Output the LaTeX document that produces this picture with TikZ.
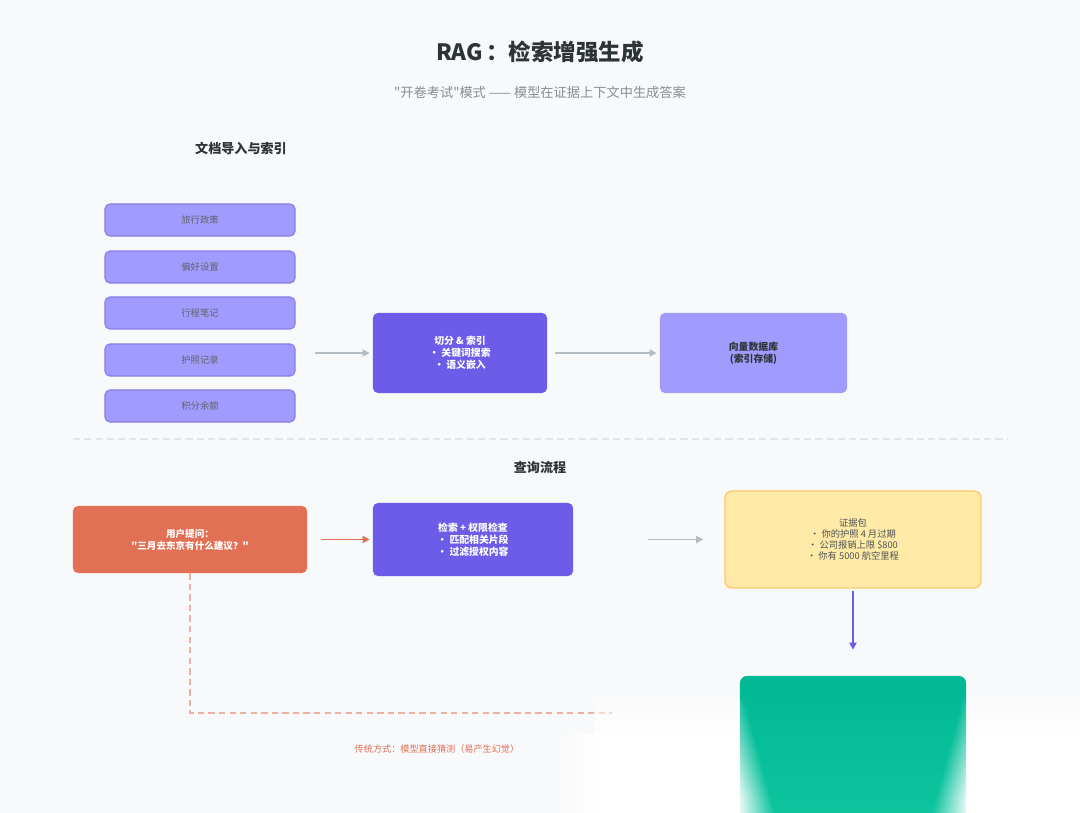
\documentclass[tikz,border=0pt]{standalone}
\usepackage{fontspec}
\setmainfont{Noto Sans CJK SC}[Ligatures=TeXOff]
\usetikzlibrary{positioning,arrows.meta,fadings}

\definecolor{pagebg}{HTML}{F8F9FA}
\definecolor{lavender}{HTML}{A29BFE}
\definecolor{violetd}{HTML}{6C5CE7}
\definecolor{coral}{HTML}{E17055}
\definecolor{sand}{HTML}{FFEAA7}
\definecolor{sandline}{HTML}{FDCB6E}
\definecolor{teal}{HTML}{00B894}
\definecolor{tealL}{HTML}{14CCA5}
\definecolor{linegray}{HTML}{B2BEC3}
\definecolor{sepgray}{HTML}{DFE6E9}
\definecolor{inkdark}{HTML}{2D3436}
\definecolor{inkgray}{HTML}{868E96}
\definecolor{inksoft}{HTML}{5F6368}

\tikzfading[name=fadedown, top color=transparent!100, bottom color=transparent!0]
\tikzfading[name=solidleft, left color=transparent!0, right color=transparent!100]
\tikzfading[name=solidright, left color=transparent!100, right color=transparent!0]

\begin{document}
\begin{tikzpicture}[x=0.025cm,y=-0.025cm,
  docbox/.style={draw=violetd!80, line width=0.8pt, fill=lavender, rounded corners=3.5pt,
    minimum width=4.75cm, minimum height=0.8cm, text=inksoft,
    font=\fontsize{6.6}{8}\selectfont},
  procbox/.style={fill=violetd, rounded corners=3.5pt, text=white, align=center,
    font=\fontsize{7}{8.5}\selectfont\bfseries},
  flow/.style={draw=linegray, line width=1.4pt, -{Triangle[length=5pt,width=5pt]}},
  heading/.style={text=inkdark, font=\fontsize{9.3}{11}\selectfont\bfseries}]

  \fill[pagebg] (0,0) rectangle (1080,813);
  \useasboundingbox (0,0) rectangle (1080,813);

  \node[text=inkdark, font=\fontsize{16}{18}\selectfont\bfseries] (title) at (540,52) {RAG\,：检索增强生成};
  \node[text=inkgray, font=\fontsize{9.4}{11}\selectfont] (subtitle) at (540,92)
    {"开卷考试"模式 —— 模型在证据上下文中生成答案};

  % ingestion
  \node[heading] (ingest) at (241,148) {文档导入与索引};
  \node[docbox] (policy) at (200,220) {旅行政策};
  \node[docbox] (prefs) at (200,267) {偏好设置};
  \node[docbox] (notes) at (200,313) {行程笔记};
  \node[docbox] (passport) at (200,360) {护照记录};
  \node[docbox] (points) at (200,406) {积分余额};
  \coordinate (docs) at (295,353);

  \node[procbox, minimum width=4.35cm, minimum height=2cm] (chunk) at (460,353)
    {切分 \& 索引\\• 关键词搜索\\• 语义嵌入};
  \node[fill=lavender, rounded corners=3.5pt, minimum width=4.675cm, minimum height=2cm,
    align=center, text=inkdark, font=\fontsize{7}{8.5}\selectfont\bfseries] (vecdb) at (753.5,353)
    {向量数据库\\(索引存储)};

  \draw[flow, shorten <=0.5cm, shorten >=0.075cm] (docs) -- (chunk);
  \draw[flow, shorten <=0.2cm, shorten >=0.075cm] (chunk) -- (vecdb);

  \draw[sepgray, line width=1pt, dash pattern=on 5pt off 3pt] (73,439) -- (1007,439);

  % query
  \node[heading] (query) at (540,468) {查询流程};
  \node[fill=coral, rounded corners=3.5pt, minimum width=5.85cm, minimum height=1.675cm,
    align=center, text=white, font=\fontsize{6.8}{8.5}\selectfont\bfseries] (user) at (190,539.5)
    {用户提问：\\"三月去东京有什么建议？"};
  \node[procbox, minimum width=5cm, minimum height=1.825cm] (retrieve) at (473,539.5)
    {检索 + 权限检查\\• 匹配相关片段\\• 过滤授权内容};
  \node[draw=sandline, line width=1pt, fill=sand, rounded corners=5pt, minimum width=6.4cm,
    minimum height=2.425cm, align=center, text=inkdark!85,
    font=\fontsize{6.6}{7.7}\selectfont] (evidence) at (853,539.5)
    {证据包\\• 你的护照 4 月过期\\• 公司报销上限 \$800\\• 你有 5000 航空里程};

  \draw[flow, draw=coral, shorten <=0.35cm, shorten >=0.075cm] (user) -- (retrieve);
  \draw[flow, shorten <=1.875cm, shorten >=0.525cm] (retrieve) -- (evidence);

  % baseline path
  \coordinate (guess) at (612,713);
  \draw[coral!55, line width=1pt, dash pattern=on 4.5pt off 3pt] (user.south) |- (guess);
  \node[text=coral, font=\fontsize{6.5}{8}\selectfont] (baseline) at (437,749)
    {传统方式：模型直接猜测（易产生幻觉）};

  % faded lower right
  \fill[white, path fading=fadedown] (595,690) rectangle (1080,735);
  \fill[white] (595,734) rectangle (1080,813);
  \fill[white, path fading=solidright] (555,734) rectangle (596,813);

  \node[top color=teal, bottom color=tealL, rounded corners=5pt, minimum width=5.65cm,
    minimum height=5.6cm] (answer) at (853,788) {};
  \draw[flow, draw=violetd, shorten <=0.05cm, shorten >=0.65cm] (evidence) -- (answer);

  \foreach \i in {0,...,37} {
    \fill[white, opacity={min(1,0.2+0.025*\i)}, path fading=solidleft]
      (736,700+3*\i) rectangle ({740+5+0.8*\i},703.2+3*\i);
    \fill[white, opacity={min(1,0.2+0.025*\i)}, path fading=solidright]
      ({966-5-0.8*\i},700+3*\i) rectangle (970,703.2+3*\i);
  }
\end{tikzpicture}
\end{document}
